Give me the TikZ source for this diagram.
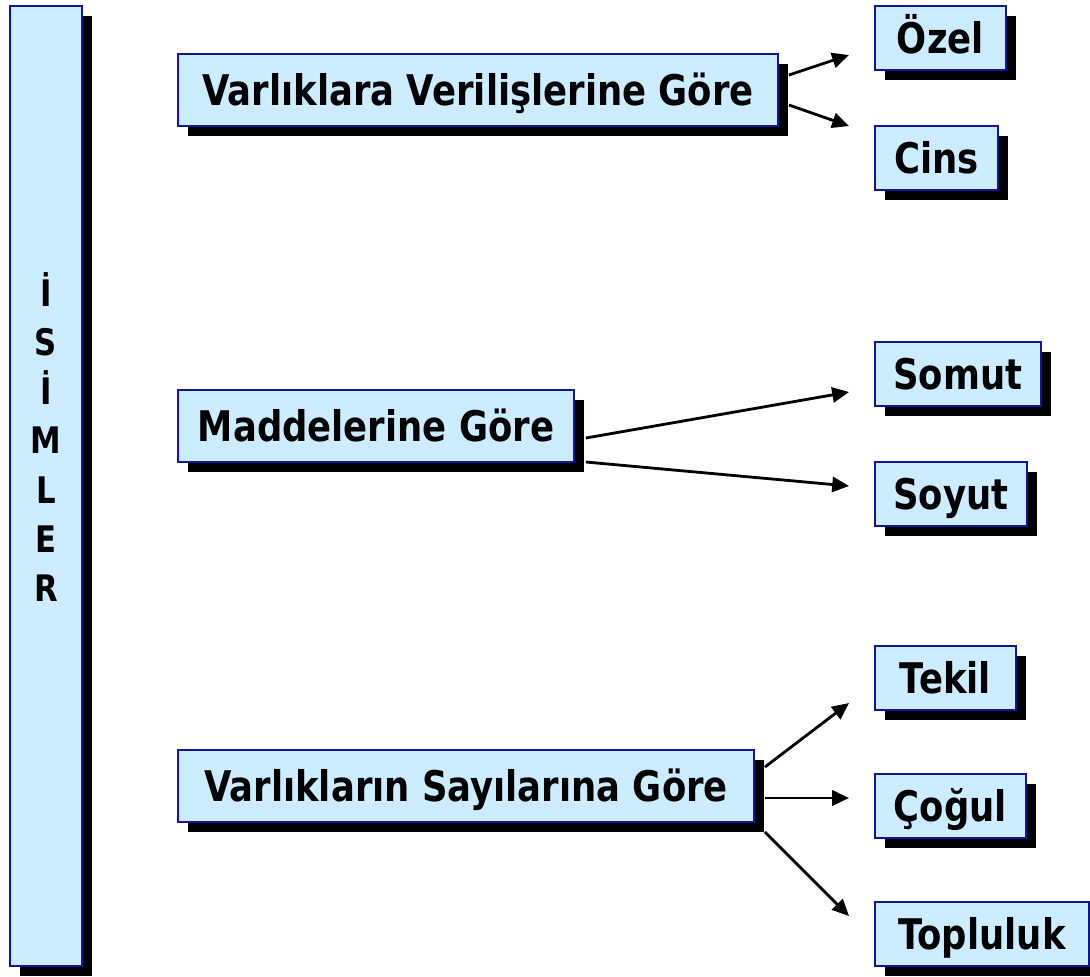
\documentclass[tikz,border=0pt]{standalone}
\usepackage{fontspec}
\setmainfont{DejaVu Sans}[FakeStretch=0.84]
\usetikzlibrary{shadows,arrows.meta,calc}
\definecolor{boxfill}{RGB}{204,236,255}
\definecolor{boxline}{RGB}{20,20,150}

\begin{document}
\begin{tikzpicture}[x=0.025cm, y=-0.025cm,
                    box/.style={rectangle, draw=boxline, fill=boxfill, line width=1.2pt,
                                font=\fontsize{30}{36}\selectfont\bfseries, align=center, inner sep=0pt,
                                general shadow={fill=black, shadow xshift=0.25cm, shadow yshift=-0.25cm}},
                    group/.style={box, minimum height=1.8cm, text height=22pt, text depth=0pt},
                    leaf/.style={box, minimum height=1.6cm, anchor=west, text height=22pt, text depth=0pt},
                    link/.style={-{Triangle[length=0.42cm,width=0.38cm]}, line width=2pt}]

\useasboundingbox (0,0) rectangle (1090,976);

% Left column
\node[box, minimum width=1.8cm, minimum height=24cm] (isim) at (46,486) {};
\node[font=\fontsize{26}{35}\selectfont\bfseries, align=center] (isimler) at (46,437) {İ\\S\\İ\\M\\L\\E\\R};

% Groups
\node[group, minimum width=15cm] (varlik) at (478,90) {Varlıklara Verilişlerine Göre};
\node[group, minimum width=9.9cm] (madde) at (376,426) {Maddelerine Göre};
\node[group, minimum width=14.4cm] (sayi) at (466,786) {Varlıkların Sayılarına Göre};

% Leaves
\node[leaf, minimum width=3.275cm] (ozel) at (874,38) {Özel};
\node[leaf, minimum width=3.075cm] (cins) at (874,158) {Cins};

\node[leaf, minimum width=4.15cm] (somut) at (874,374) {Somut};
\node[leaf, minimum width=3.8cm] (soyut) at (874,494) {Soyut};

\node[leaf, minimum width=3.525cm] (tekil) at (874,678) {Tekil};
\node[leaf, minimum width=3.775cm] (cogul) at (874,806) {Çoğul};
\node[leaf, minimum width=5.35cm] (topluluk) at (874,934) {Topluluk};

% Connections
\draw[link] ($(varlik.east)+(10,-15)$) -- ($(ozel.west)+(-25,17)$);
\draw[link] ($(varlik.east)+(10,15)$) -- ($(cins.west)+(-25,-32)$);

\draw[link] ($(madde.east)+(11,12)$) -- ($(somut.west)+(-25,18)$);
\draw[link] ($(madde.east)+(11,36)$) -- ($(soyut.west)+(-25,-8)$);

\draw[link] ($(sayi.east)+(10,-19)$) -- ($(tekil.west)+(-25,25)$);
\draw[link] ($(sayi.east)+(10,12)$) -- ($(cogul.west)+(-25,-8)$);
\draw[link] ($(sayi.east)+(10,46)$) -- ($(topluluk.west)+(-25,-18)$);

\end{tikzpicture}
\end{document}
